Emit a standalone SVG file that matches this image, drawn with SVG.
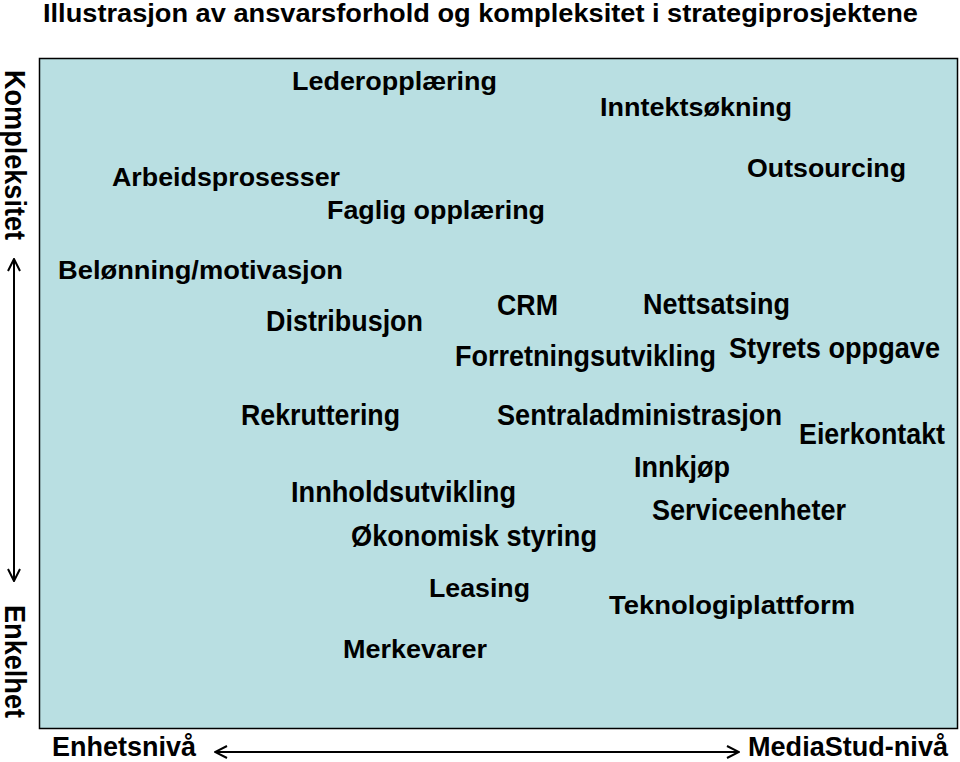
<svg xmlns="http://www.w3.org/2000/svg" width="960" height="762" viewBox="0 0 960 762">
<style>
text{font-family:"Liberation Sans",Arial,sans-serif;font-weight:bold;fill:#000;}
.t{font-size:26px;}
.c{font-size:29px;}
.b{font-size:27px;}
.title{font-size:25px;}
.ax{stroke:#000;stroke-width:2;fill:none;}
</style>
<defs>
<marker id="ah" viewBox="0 0 14 14" refX="13" refY="7" markerWidth="14" markerHeight="14" markerUnits="userSpaceOnUse" orient="auto-start-reverse">
<path d="M1,1 L13,7 L1,13" fill="none" stroke="#000" stroke-width="2"/>
</marker>
</defs>
<rect width="960" height="762" fill="#fff"/>
<text class="title" x="43" y="22" textLength="875" lengthAdjust="spacingAndGlyphs">Illustrasjon av ansvarsforhold og kompleksitet i strategiprosjektene</text>
<rect id="frame" x="39.5" y="58.5" width="918" height="670" fill="#B9DFE2" stroke="#000" stroke-width="1.5"/>
<g id="connectors">
<line class="ax" x1="14" y1="259" x2="14" y2="581" marker-start="url(#ah)" marker-end="url(#ah)"/>
<line class="ax" x1="215" y1="752" x2="739" y2="752" marker-start="url(#ah)" marker-end="url(#ah)"/>
</g>
<g id="axis-labels">
<text class="c" transform="translate(5,70) rotate(90)" textLength="170" lengthAdjust="spacingAndGlyphs">Kompleksitet</text>
<text class="c" transform="translate(5,605) rotate(90)" textLength="113" lengthAdjust="spacingAndGlyphs">Enkelhet</text>
<text class="b" x="52" y="756" textLength="144" lengthAdjust="spacingAndGlyphs">Enhetsnivå</text>
<text class="b" x="748" y="756" textLength="200" lengthAdjust="spacingAndGlyphs">MediaStud-nivå</text>
</g>
<g id="n-lederopplaering"><text class="t" x="292" y="90" textLength="205" lengthAdjust="spacingAndGlyphs">Lederopplæring</text></g>
<g id="n-inntektsokning"><text class="t" x="600" y="116" textLength="192" lengthAdjust="spacingAndGlyphs">Inntektsøkning</text></g>
<g id="n-outsourcing"><text class="t" x="747" y="177" textLength="159" lengthAdjust="spacingAndGlyphs">Outsourcing</text></g>
<g id="n-arbeidsprosesser"><text class="t" x="112" y="186" textLength="228" lengthAdjust="spacingAndGlyphs">Arbeidsprosesser</text></g>
<g id="n-faglig"><text class="t" x="327" y="219" textLength="218" lengthAdjust="spacingAndGlyphs">Faglig opplæring</text></g>
<g id="n-belonning"><text class="t" x="58" y="279" textLength="285" lengthAdjust="spacingAndGlyphs">Belønning/motivasjon</text></g>
<g id="n-crm"><text class="c" x="497" y="315" textLength="61" lengthAdjust="spacingAndGlyphs">CRM</text></g>
<g id="n-nettsatsing"><text class="c" x="643" y="314" textLength="147" lengthAdjust="spacingAndGlyphs">Nettsatsing</text></g>
<g id="n-distribusjon"><text class="c" x="266" y="331" textLength="157" lengthAdjust="spacingAndGlyphs">Distribusjon</text></g>
<g id="n-forretningsutvikling"><text class="c" x="455" y="366" textLength="261" lengthAdjust="spacingAndGlyphs">Forretningsutvikling</text></g>
<g id="n-styrets"><text class="c" x="729" y="358" textLength="211" lengthAdjust="spacingAndGlyphs">Styrets oppgave</text></g>
<g id="n-rekruttering"><text class="c" x="241" y="425" textLength="159" lengthAdjust="spacingAndGlyphs">Rekruttering</text></g>
<g id="n-sentraladm"><text class="c" x="497" y="425" textLength="285" lengthAdjust="spacingAndGlyphs">Sentraladministrasjon</text></g>
<g id="n-eierkontakt"><text class="c" x="799" y="444" textLength="146" lengthAdjust="spacingAndGlyphs">Eierkontakt</text></g>
<g id="n-innkjop"><text class="c" x="634" y="477" textLength="96" lengthAdjust="spacingAndGlyphs">Innkjøp</text></g>
<g id="n-innholdsutvikling"><text class="c" x="291" y="502" textLength="225" lengthAdjust="spacingAndGlyphs">Innholdsutvikling</text></g>
<g id="n-serviceenheter"><text class="c" x="652" y="520" textLength="194" lengthAdjust="spacingAndGlyphs">Serviceenheter</text></g>
<g id="n-okonomisk"><text class="c" x="351" y="546" textLength="246" lengthAdjust="spacingAndGlyphs">Økonomisk styring</text></g>
<g id="n-leasing"><text class="t" x="429" y="597" textLength="101" lengthAdjust="spacingAndGlyphs">Leasing</text></g>
<g id="n-teknologi"><text class="t" x="609" y="614" textLength="246" lengthAdjust="spacingAndGlyphs">Teknologiplattform</text></g>
<g id="n-merkevarer"><text class="t" x="343" y="658" textLength="144" lengthAdjust="spacingAndGlyphs">Merkevarer</text></g>
</svg>
